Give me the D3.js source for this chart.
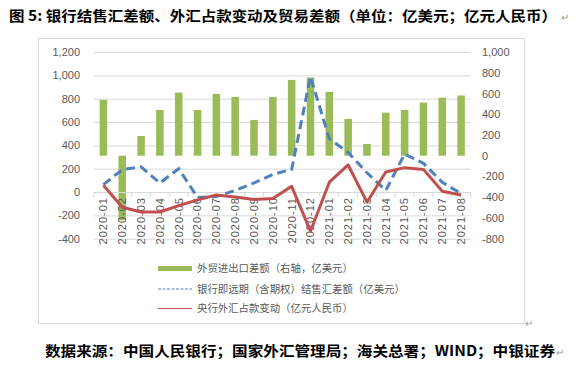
<!DOCTYPE html>
<html>
<head>
<meta charset="utf-8">
<script src="https://cdn.jsdelivr.net/npm/d3@7"></script>
<style>
  body { margin: 0; background: #fff; }
  svg { display: block; }
  .tick text { fill: #595959; }
</style>
</head>
<body>
<script>
// categories
var months = ['2020-01','2020-02','2020-03','2020-04','2020-05','2020-06','2020-07','2020-08','2020-09','2020-10',
              '2020-11','2020-12','2021-01','2021-02','2021-03','2021-04','2021-05','2021-06','2021-07','2021-08'];

// 外贸进出口差额 (right axis, 亿美元)
var tradeBalance = [538, -622, 190, 441, 609, 441, 596, 567, 345, 567, 731, 754, 615, 355, 113, 415, 441, 512, 560, 580];
// 银行即远期(含期权)结售汇差额 (亿美元)
var fxSettle = [63, 192, 215, 77, 200, -46, -38, 14, 78, 151, 194, 990, 455, 339, 165, 14, 325, 246, 84, -14];
// 央行外汇占款变动 (亿元人民币)
var pbocFx = [58, -130, -171, -171, -116, -67, -26, -43, -64, -55, 49, -336, 84, 232, -87, 171, 209, 194, 6, -26];

var leftTicks = [-400, -200, 0, 200, 400, 600, 800, 1000, 1200];
var rightTicks = [-800, -600, -400, -200, 0, 200, 400, 600, 800, 1000];

var legendLabels = ['外贸进出口差额（右轴，亿美元）', '银行即远期（含期权）结售汇差额（亿美元）', '央行外汇占款变动（亿元人民币）'];
var titleText = '图 5: 银行结售汇差额、外汇占款变动及贸易差额（单位：亿美元；亿元人民币）';
var sourceText = '数据来源：中国人民银行；国家外汇管理局；海关总署；WIND；中银证券';

// colors
var green = '#9bbb59', blue = '#4f81bd', red = '#c0504d', grid = '#d9d9d9', textColor = '#595959';

var W = 582, H = 371;
var plot = {left: 94, right: 470.5, top: 52, bottom: 238.7};

var fmt = d3.formatLocale({decimal: '.', thousands: ',', grouping: [3], currency: ['', ''], minus: '-'}).format(',');

var svg = d3.select('body').append('svg')
            .attr('width', W)
            .attr('height', H);

// title
svg.append('text')
   .attr('x', 9)
   .attr('y', 21)
   .attr('textLength', 548)
   .attr('lengthAdjust', 'spacingAndGlyphs')
   .style('font-family', '"Noto Sans CJK SC", sans-serif')
   .style('font-weight', 'bold')
   .style('font-size', '14px')
   .style('fill', '#000')
   .text(titleText);
svg.append('text')
   .attr('x', 561).attr('y', 21)
   .style('font-size', '10px').style('fill', '#999')
   .text('↵');

// chart frame
svg.append('rect')
   .attr('x', 38.5).attr('y', 38.5)
   .attr('width', 486).attr('height', 285)
   .attr('fill', 'none')
   .attr('stroke', grid);
svg.append('text')
   .attr('x', 525).attr('y', 327)
   .style('font-size', '10px').style('fill', '#999')
   .text('↵');

// scales
var xScale = d3.scaleBand().domain(months).range([plot.left, plot.right]);
var yLeft = d3.scaleLinear().domain([-400, 1200]).range([plot.bottom, plot.top]);
var yRight = d3.scaleLinear().domain([-800, 1000]).range([plot.bottom, plot.top]);

// gridlines
svg.append('g')
   .attr('transform', 'translate(' + plot.left + ',0)')
   .call(d3.axisLeft(yLeft).tickValues(leftTicks).tickSize(-(plot.right - plot.left)).tickFormat(''))
   .call(function(g) { g.select('.domain').remove(); })
   .selectAll('line')
   .attr('stroke', grid);

// left axis labels
svg.append('g')
   .attr('transform', 'translate(' + plot.left + ',0)')
   .call(d3.axisLeft(yLeft).tickValues(leftTicks).tickSize(0).tickPadding(14).tickFormat(fmt))
   .call(function(g) { g.select('.domain').remove(); })
   .selectAll('text')
   .style('font-family', '"Liberation Sans", Arial, sans-serif')
   .style('font-size', '11px');

// right axis labels
svg.append('g')
   .attr('transform', 'translate(' + plot.right + ',0)')
   .call(d3.axisRight(yRight).tickValues(rightTicks).tickSize(0).tickPadding(11.5).tickFormat(fmt))
   .call(function(g) { g.select('.domain').remove(); })
   .selectAll('text')
   .style('font-family', '"Liberation Sans", Arial, sans-serif')
   .style('font-size', '11px');

// bars (right axis)
var barW = xScale.step() * 0.4;
svg.append('g')
   .selectAll('rect')
   .data(tradeBalance)
   .enter()
   .append('rect')
   .attr('x', function(d, i) { return xScale(months[i]) + xScale.bandwidth() / 2 - barW / 2; })
   .attr('y', function(d) { return yRight(Math.max(0, d)); })
   .attr('width', barW)
   .attr('height', function(d) { return Math.abs(yRight(d) - yRight(0)); })
   .attr('fill', green);

// category axis at left zero
var xAxisG = svg.append('g')
   .attr('transform', 'translate(0,' + yLeft(0) + ')')
   .call(d3.axisBottom(xScale).tickSize(0));
xAxisG.select('.domain').attr('stroke', grid);
xAxisG.selectAll('text')
      .attr('transform', 'rotate(-90)')
      .attr('x', -5)
      .attr('y', 0)
      .attr('dy', '0.35em')
      .style('text-anchor', 'end')
      .style('font-family', '"Liberation Sans", Arial, sans-serif')
      .style('font-size', '11px')
      .style('letter-spacing', '1px');
// tick marks between categories
xAxisG.selectAll('.sep')
      .data(d3.range(months.length + 1))
      .enter()
      .append('line')
      .attr('x1', function(i) { return plot.left + i * xScale.step(); })
      .attr('x2', function(i) { return plot.left + i * xScale.step(); })
      .attr('y1', 0)
      .attr('y2', 5)
      .attr('stroke', grid);

// lines (left axis)
var cx = function(d, i) { return xScale(months[i]) + xScale.bandwidth() / 2; };
var line = d3.line().x(cx).y(function(d) { return yLeft(d); });

svg.append('path')
   .datum(fxSettle)
   .attr('d', line)
   .attr('fill', 'none')
   .attr('stroke', blue)
   .attr('stroke-width', 3)
   .attr('stroke-dasharray', '9,5');

svg.append('path')
   .datum(pbocFx)
   .attr('d', line)
   .attr('fill', 'none')
   .attr('stroke', red)
   .attr('stroke-width', 3)
   .attr('stroke-linejoin', 'round');

// legend
var legend = svg.append('g').attr('transform', 'translate(158,0)');
var legY = [268.5, 289, 308.5];
legend.append('rect')
      .attr('x', 0).attr('y', legY[0] - 2.5)
      .attr('width', 34).attr('height', 5)
      .attr('fill', green);
legend.append('line')
      .attr('x1', 0).attr('x2', 34).attr('y1', legY[1]).attr('y2', legY[1])
      .attr('stroke', blue).attr('stroke-width', 1).attr('stroke-dasharray', '3,1.5');
legend.append('line')
      .attr('x1', 0).attr('x2', 34).attr('y1', legY[2]).attr('y2', legY[2])
      .attr('stroke', red).attr('stroke-width', 1);
legend.selectAll('.leg-text')
      .data(legendLabels)
      .enter()
      .append('text')
      .attr('x', 39)
      .attr('y', function(d, i) { return legY[i]; })
      .attr('dy', '0.35em')
      .style('font-family', '"Noto Sans CJK SC", sans-serif')
      .style('font-size', '10.4px')
      .style('fill', textColor)
      .text(function(d) { return d; });

// source
svg.append('text')
   .attr('x', 45)
   .attr('y', 356)
   .attr('textLength', 510)
   .attr('lengthAdjust', 'spacingAndGlyphs')
   .style('font-family', '"Noto Sans CJK SC", sans-serif')
   .style('font-weight', 'bold')
   .style('font-size', '14px')
   .style('fill', '#000')
   .text(sourceText);
svg.append('text')
   .attr('x', 556).attr('y', 356)
   .style('font-size', '10px').style('fill', '#999')
   .text('↵');
</script>
</body>
</html>
